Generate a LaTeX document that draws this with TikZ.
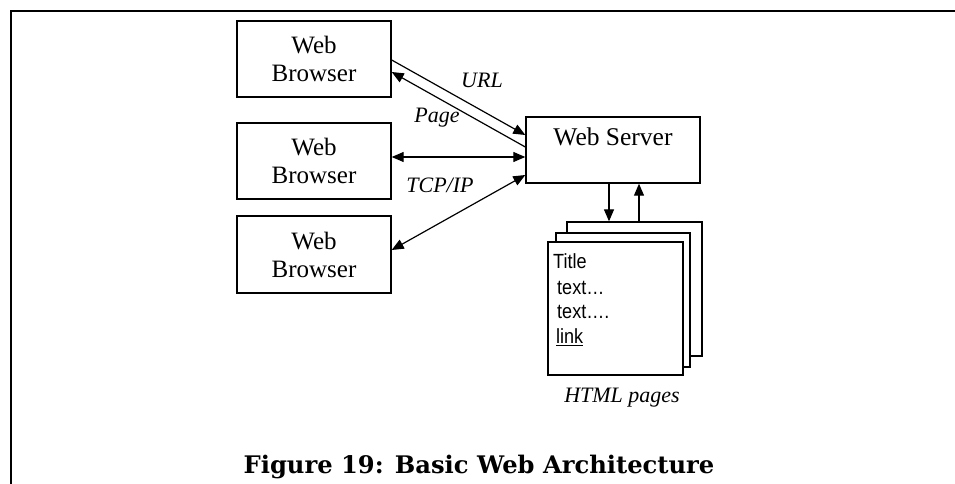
\documentclass[tikz,border=0pt]{standalone}
\usepackage{fontspec}
\setmainfont{Liberation Serif}
\newfontfamily\arialfont{Liberation Sans}
\newfontfamily\capfont{DejaVu Serif}
\usetikzlibrary{arrows.meta}
\tikzset{
  box/.style={draw, line width=1.4pt, fill=white, inner sep=0pt, font=\fontsize{25}{28}\selectfont, align=center},
  page/.style={draw, line width=1.3pt, fill=white},
  conn/.style={line width=1.2pt, -{Triangle[length=12pt,width=10pt]}},
  biconn/.style={line width=1.2pt, {Triangle[length=12pt,width=10pt]}-{Triangle[length=12pt,width=10pt]}},
  lbl/.style={font=\fontsize{22}{24}\selectfont\itshape, inner sep=0pt},
  pagetext/.style={font=\arialfont\fontsize{20.5}{22}\selectfont, anchor=west, inner sep=0pt},
  frame/.style={line width=2pt}
}
\newcommand{\pgtxt}[1]{\scalebox{0.88}[1]{#1}}
\begin{document}
\begin{tikzpicture}[x=1pt,y=-1pt]
\useasboundingbox (0,0) rectangle (955,484);
% frame (top and left)
\coordinate (ftr) at (956,11);
\coordinate (ftl) at (11,11);
\coordinate (fbl) at (11,485);
\draw[frame] (ftr) -- (ftl) -- (fbl);
% browsers
\node[box, minimum width=154pt, minimum height=76pt] (b1) at (314,59) {Web\\Browser};
\node[box, minimum width=154pt, minimum height=76pt] (b2) at (314,161) {Web\\Browser};
\node[box, minimum width=154pt, minimum height=77pt] (b3) at (314,254.5) {Web\\Browser};
% server
\node[box, minimum width=174pt, minimum height=66pt] (srv) at (613,150) {};
\node[font=\fontsize{25.5}{28}\selectfont, inner sep=0pt] (srvtext) at (613,137) {Web Server};
% pages
\node[page, minimum width=135pt, minimum height=134pt, inner sep=0pt] (pg3) at (634.5,289) {};
\node[page, minimum width=134pt, minimum height=134pt, inner sep=0pt] (pg2) at (623,300) {};
\node[page, minimum width=135pt, minimum height=133pt, inner sep=0pt] (pg1) at (615.5,308.5) {};
\node[pagetext] (ptitle) at (553,261) {\pgtxt{Title}};
\node[pagetext] (ptext1) at (557,288) {\pgtxt{text…}};
\node[pagetext] (ptext2) at (557,312) {\pgtxt{text….}};
\node[pagetext] (plink) at (556,337) {\pgtxt{\underline{link}}};
% connectors
\draw[conn] ([yshift=-1pt]b1.east) -- ([yshift=15pt]srv.west);
\draw[conn] ([yshift=3pt]srv.west) -- ([yshift=-13pt]b1.east);
\draw[biconn] ([yshift=4pt]b2.east) -- ([yshift=-7pt]srv.west);
\draw[biconn] ([yshift=4.5pt]b3.east) -- ([yshift=-25pt]srv.west);
\draw[conn] (srv.south -| 609,0) -- (pg3.north -| 609,0);
\draw[conn] (pg3.north -| 639,0) -- (srv.south -| 639,0);
% labels
\node[lbl] (lurl) at (482,80) {URL};
\node[lbl] (lpage) at (437,118) {Page};
\node[lbl] (ltcp) at (440,185) {TCP/IP};
\node[lbl] (lhtml) at (622,398) {HTML pages};
% caption
\node[font=\capfont\bfseries\fontsize{24.2}{28}\selectfont, inner sep=0pt, anchor=base] (cap) at (479,473) {Figure 19: Basic Web Architecture};
\end{tikzpicture}
\end{document}
